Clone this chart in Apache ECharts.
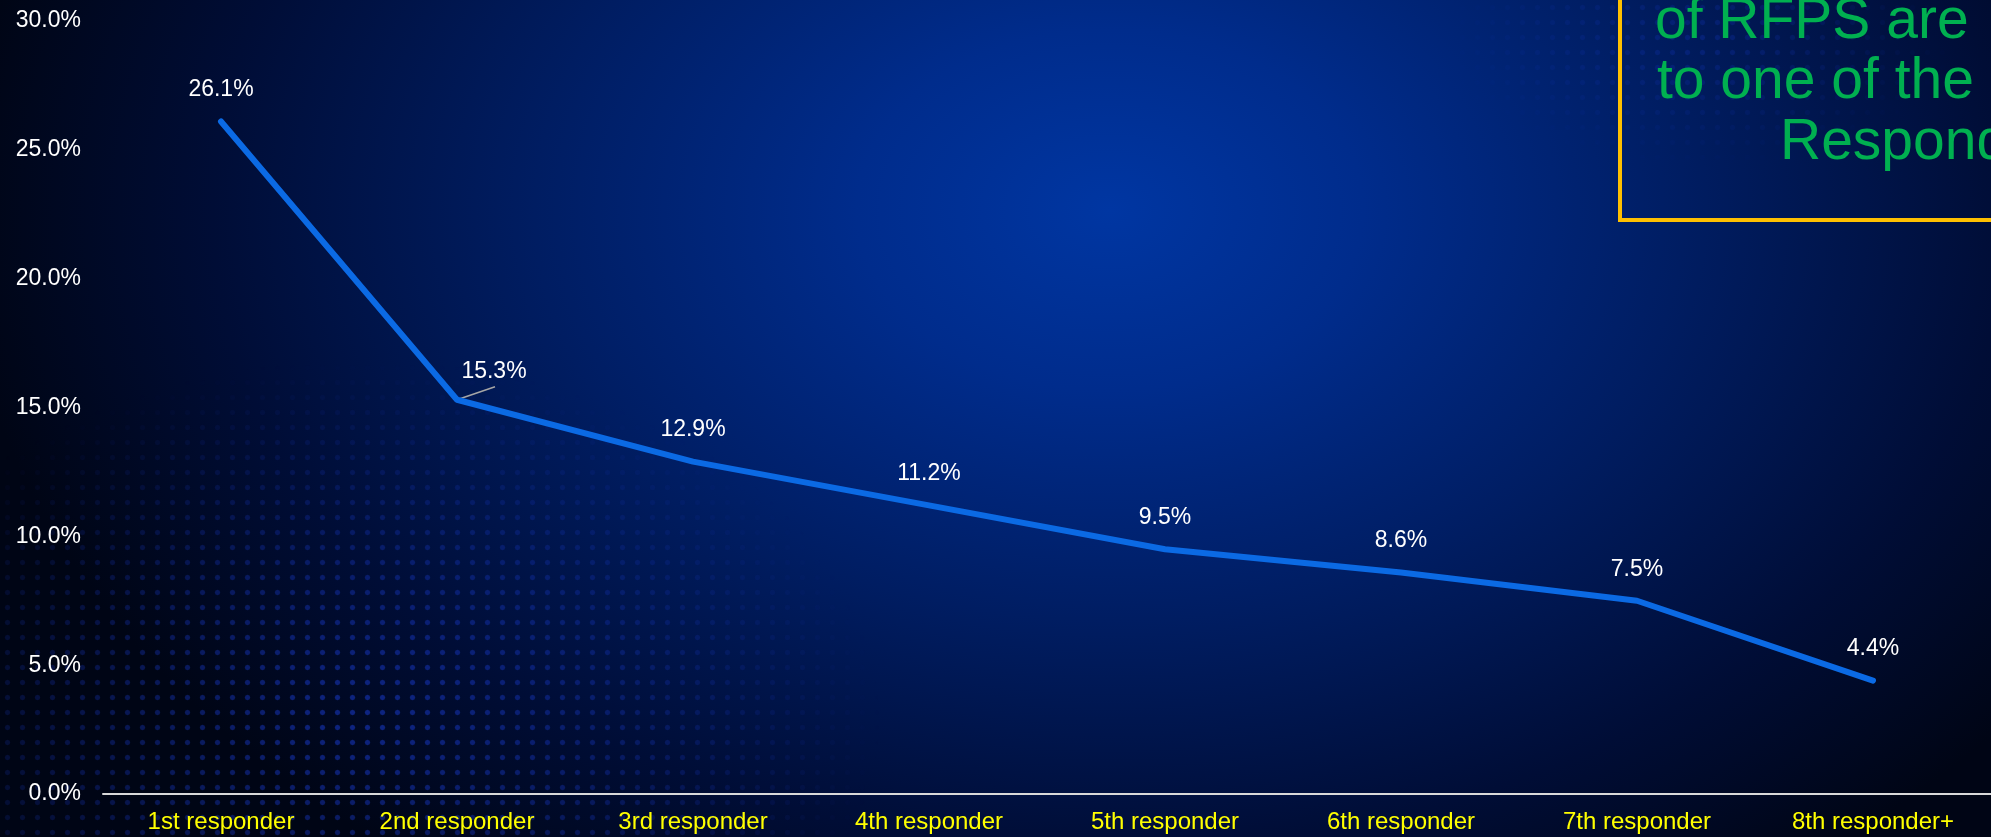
<!DOCTYPE html>
<html>
<head>
<meta charset="utf-8">
<script src="https://cdn.jsdelivr.net/npm/echarts@6/dist/echarts.min.js"></script>
<style>
  html, body { margin:0; padding:0; width:1991px; height:837px; overflow:hidden; background:#000514; }
  #wrap { position:relative; width:1991px; height:837px; overflow:hidden;
    background: radial-gradient(ellipse 1150px 820px at 1110px 210px, #0036a2 0%, #002c8c 22%, #001d62 50%, #000d36 78%, #000515 100%); }
  .dots { position:absolute; left:0; top:0; width:1991px; height:837px;
    background-image: radial-gradient(circle, rgba(25,60,210,0.55) 2px, rgba(25,60,210,0) 3.2px);
    background-size: 15px 15px; }
  #dots1 { -webkit-mask-image: radial-gradient(ellipse 520px 360px at 360px 720px, rgba(0,0,0,1) 0%, rgba(0,0,0,0.6) 45%, rgba(0,0,0,0) 100%);
           mask-image: radial-gradient(ellipse 520px 360px at 360px 720px, rgba(0,0,0,1) 0%, rgba(0,0,0,0.6) 45%, rgba(0,0,0,0) 100%); }
  #dots2 { opacity:0.45; -webkit-mask-image: radial-gradient(ellipse 260px 130px at 1700px 40px, rgba(0,0,0,1) 0%, rgba(0,0,0,0) 100%);
           mask-image: radial-gradient(ellipse 260px 130px at 1700px 40px, rgba(0,0,0,1) 0%, rgba(0,0,0,0) 100%); }
  #chart { position:absolute; left:0; top:0; width:1991px; height:837px; }
</style>
</head>
<body>
<div id="wrap">
  <div class="dots" id="dots1"></div>
  <div class="dots" id="dots2"></div>
  <div id="chart"></div>
</div>
<script>
const categories = ['1st responder','2nd responder','3rd responder','4th responder','5th responder','6th responder','7th responder','8th responder+'];
const shares = [26.1, 15.3, 12.9, 11.2, 9.5, 8.6, 7.5, 4.4];
const yTicks = { min: 0, max: 30, step: 5 };
const calloutLines = ['of RFPS are', 'to one of the', 'Responders'];
const leaderIndex = 1;

const FONT = 'Liberation Sans, Arial, sans-serif';
const chart = echarts.init(document.getElementById('chart'), null, { renderer: 'canvas' });

chart.setOption({
  backgroundColor: 'transparent',
  animation: false,
  grid: { left: 103, right: 0, top: 21, bottom: 43, containLabel: false },
  xAxis: {
    type: 'category',
    data: categories,
    boundaryGap: true,
    axisLine: { show: true, lineStyle: { color: '#d9d9d9', width: 2 } },
    axisTick: { show: false },
    axisLabel: { color: '#ffff00', fontSize: 24, fontFamily: FONT, margin: 16 },
    splitLine: { show: false }
  },
  yAxis: {
    type: 'value',
    min: yTicks.min, max: yTicks.max, interval: yTicks.step,
    axisLine: { show: false },
    axisTick: { show: false },
    splitLine: { show: false },
    axisLabel: { color: '#ffffff', fontSize: 23, fontFamily: FONT, margin: 22,
      formatter: v => v.toFixed(1) + '%' }
  },
  series: [{
    type: 'custom',
    data: shares.map((v, i) => [i, v]),
    encode: { x: 0, y: 1 },
    silent: true,
    z: 1,
    renderItem: function (params, api) {
      if (params.dataIndex !== leaderIndex) return null;
      const p = api.coord([api.value(0), api.value(1)]);
      return { type: 'line', shape: { x1: p[0], y1: p[1], x2: p[0] + 38, y2: p[1] - 13 },
        style: { stroke: '#a6a6a6', lineWidth: 1.5 } };
    }
  }, {
    type: 'line',
    data: shares,
    z: 2,
    symbol: 'circle',
    symbolSize: 2,
    showSymbol: true,
    itemStyle: { color: '#0b6ae4' },
    lineStyle: { color: '#0b6ae4', width: 6, cap: 'round', join: 'round' },
    label: {
      show: true, position: 'top', distance: 19,
      color: '#ffffff', fontSize: 23, fontFamily: FONT,
      formatter: p => Number(p.value).toFixed(1) + '%'
    },
    labelLayout: function (params) {
      if (params.dataIndex === leaderIndex) return { dx: 37, dy: 3 };
      return {};
    }
  }],
  graphic: [
    { type: 'rect', z: 10, shape: { x: 1620, y: -10, width: 500, height: 230 },
      style: { fill: 'none', stroke: '#ffc000', lineWidth: 4 } },
    { type: 'text', z: 10, x: 1655, y: 22, style: { text: calloutLines[0], fill: '#00b050', font: '57px ' + FONT, verticalAlign: 'middle', align: 'left' } },
    { type: 'text', z: 10, x: 1657, y: 82, style: { text: calloutLines[1], fill: '#00b050', font: '57px ' + FONT, verticalAlign: 'middle', align: 'left' } },
    { type: 'text', z: 10, x: 1780, y: 143, style: { text: calloutLines[2], fill: '#00b050', font: '57px ' + FONT, verticalAlign: 'middle', align: 'left' } }
  ]
});
</script>
</body>
</html>
